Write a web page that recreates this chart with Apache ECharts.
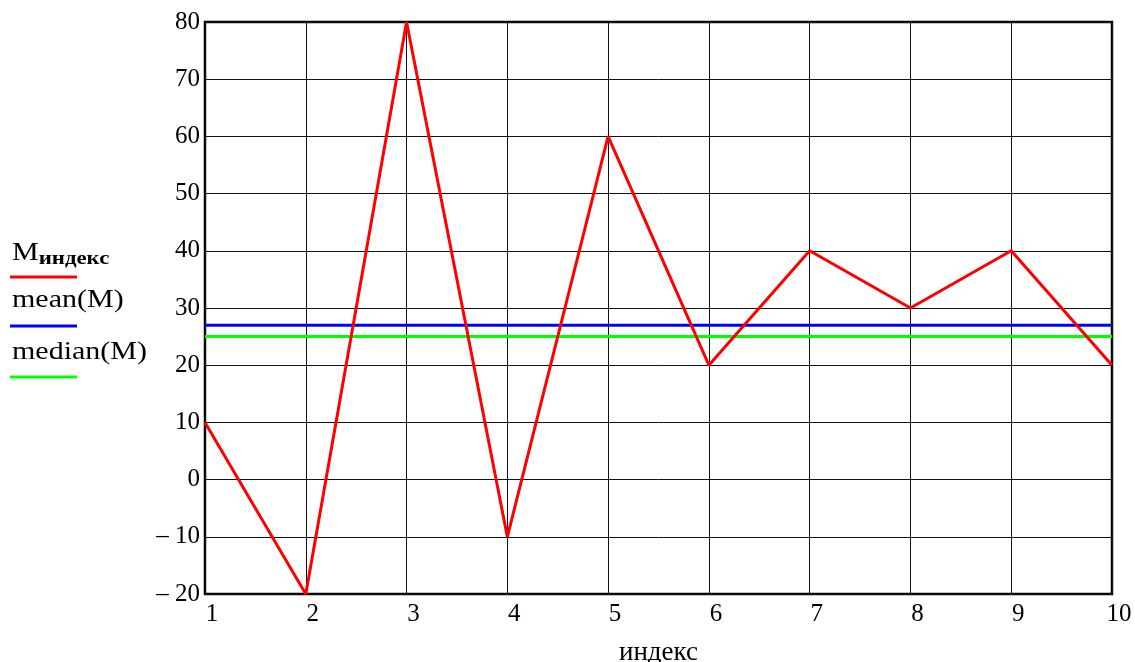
<!DOCTYPE html>
<html>
<head>
<meta charset="utf-8">
<script src="https://cdn.jsdelivr.net/npm/echarts@6/dist/echarts.min.js"></script>
<style>html,body{margin:0;padding:0;background:#fff}#c{width:1135px;height:662px}</style>
</head>
<body>
<div id="c"></div>
<script>
const indices = [1, 2, 3, 4, 5, 6, 7, 8, 9, 10];
const M = [10, -20, 80, -10, 60, 20, 40, 30, 40, 20];
const meanValue = 27;
const medianValue = 25;
const xTicks = [1, 2, 3, 4, 5, 6, 7, 8, 9, 10];
const yTicks = [-20, -10, 0, 10, 20, 30, 40, 50, 60, 70, 80];

const FONT = '"Liberation Serif", "DejaVu Serif", serif';
const chart = echarts.init(document.getElementById('c'), null, {renderer: 'canvas'});

const seriesData = indices.map((x, i) => [x, M[i]]);
const meanData = indices.map(x => [x, meanValue]);
const medianData = indices.map(x => [x, medianValue]);

chart.setOption({
  animation: false,
  backgroundColor: '#fff',
  grid: {left: 205, right: 23, top: 22, bottom: 68, containLabel: false, outerBoundsMode: 'none',
    show: true, borderColor: '#000', borderWidth: 2.5},
  xAxis: {
    type: 'value', min: xTicks[0], max: xTicks[xTicks.length - 1], interval: 1,
    name: 'индекс', nameLocation: 'middle', nameGap: 45,
    nameTextStyle: {fontFamily: FONT, fontSize: 27, color: '#000'},
    axisLine: {show: false}, axisTick: {show: false},
    axisLabel: {fontFamily: FONT, fontSize: 25, color: '#000', margin: 8, padding: [0, 0, 0, 14]},
    splitLine: {show: true, lineStyle: {color: '#111', width: 1}}
  },
  yAxis: {
    type: 'value', min: yTicks[0], max: yTicks[yTicks.length - 1], interval: 10,
    axisLine: {show: false}, axisTick: {show: false},
    axisLabel: {fontFamily: FONT, fontSize: 25, color: '#000', margin: 5,
      formatter: v => v < 0 ? '\u2013 ' + Math.abs(v) : String(v)},
    splitLine: {show: true, lineStyle: {color: '#111', width: 1}}
  },
  series: [
    {type: 'line', data: meanData, symbol: 'none', lineStyle: {color: '#0000ff', width: 3}, z: 3},
    {type: 'line', data: medianData, symbol: 'none', lineStyle: {color: '#00ff00', width: 3}, z: 3},
    {type: 'line', data: seriesData, symbol: 'none', lineStyle: {color: '#ff0000', width: 3}, z: 4}
  ],
  graphic: [
    {type: 'text', x: 12, y: 238, scaleX: 1.2, style: {
      text: '{m|M}{s|индекс}', rich: {
        m: {fontFamily: FONT, fontSize: 25, fill: '#000'},
        s: {fontFamily: FONT, fontSize: 19, fontWeight: 'bold', fill: '#000', padding: [12, 0, 0, 0]}
      }}},
    {type: 'line', shape: {x1: 10, y1: 277, x2: 77, y2: 277}, style: {stroke: '#ff0000', lineWidth: 3}},
    {type: 'text', x: 12, y: 288, scaleX: 1.2, style: {text: 'mean(M)', fontFamily: FONT, fontSize: 25, fill: '#000'}},
    {type: 'line', shape: {x1: 10, y1: 326, x2: 77, y2: 326}, style: {stroke: '#0000ff', lineWidth: 3}},
    {type: 'text', x: 12, y: 340, scaleX: 1.2, style: {text: 'median(M)', fontFamily: FONT, fontSize: 25, fill: '#000'}},
    {type: 'line', shape: {x1: 10, y1: 377, x2: 77, y2: 377}, style: {stroke: '#00ff00', lineWidth: 3}}
  ]
});
</script>
</body>
</html>
